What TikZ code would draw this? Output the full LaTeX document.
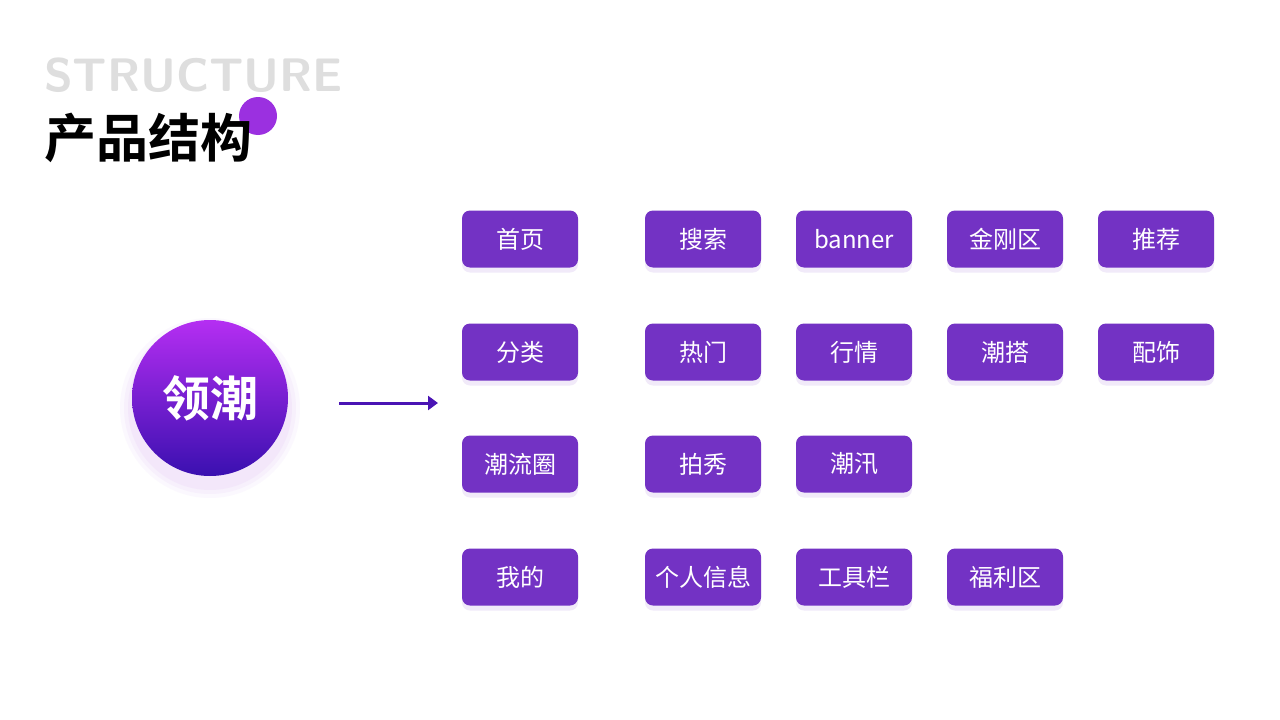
\documentclass[tikz,border=0pt]{standalone}
\usepackage{fontspec}
\setmainfont{Noto Sans CJK SC}[BoldFont={Noto Sans CJK SC Bold}]
\usetikzlibrary{shadows,arrows.meta}
\definecolor{boxc}{HTML}{7332C4}
\definecolor{arrc}{HTML}{4A14B4}
\definecolor{ctop}{HTML}{B52EF2}
\definecolor{cbot}{HTML}{3A10B0}
\definecolor{dotc}{HTML}{9B30E0}
\begin{document}
\begin{tikzpicture}[x=1pt,y=-1pt,
 box/.style={fill=boxc,rounded corners=8pt,minimum width=116pt,minimum height=57pt,text=white,font=\fontsize{24}{24}\selectfont,inner sep=0pt,
  drop shadow={shadow xshift=0pt,shadow yshift=-5pt,fill=boxc!25,opacity=0.4}}]
\useasboundingbox (0,0) rectangle (1280,720);
\fill[white] (0,0) rectangle (1280,720);
\node[anchor=west,text=black!13,font=\sffamily\bfseries\fontsize{47}{47}\selectfont,inner sep=0pt] (st) at (44,75) {STRUCTURE};
\fill[dotc] (258,116) circle (19);
\node[anchor=west,font=\bfseries\fontsize{52}{52}\selectfont,inner sep=0pt] (tt) at (44,138) {产品结构};
\foreach \r/\o in {90/0.08,86/0.1,82/0.12}
  \fill[dotc!40,opacity=\o] (210,408) circle (\r);
\shade[top color=ctop,bottom color=cbot] (210,398) circle (78);
\node[text=white,font=\bfseries\fontsize{48}{48}\selectfont] (c) at (210,398) {领潮};
\coordinate (a1) at (339,403); \coordinate (a2) at (438,403);
\draw[arrc,line width=3pt,-{Triangle[length=10pt,width=14pt]}] (a1) -- (a2);
\foreach \n/\x/\y/\t in {
 b11/520/239/首页, b12/703/239/搜索, b13/854/239/banner, b14/1005/239/金刚区, b15/1156/239/推荐,
 b21/520/352/分类, b22/703/352/热门, b23/854/352/行情, b24/1005/352/潮搭, b25/1156/352/配饰,
 b31/520/464/潮流圈, b32/703/464/拍秀, b33/854/464/潮汛,
 b41/520/577/我的, b42/703/577/个人信息, b43/854/577/工具栏, b44/1005/577/福利区}
 \node[box] (\n) at (\x,\y) {\t};
\end{tikzpicture}
\end{document}
